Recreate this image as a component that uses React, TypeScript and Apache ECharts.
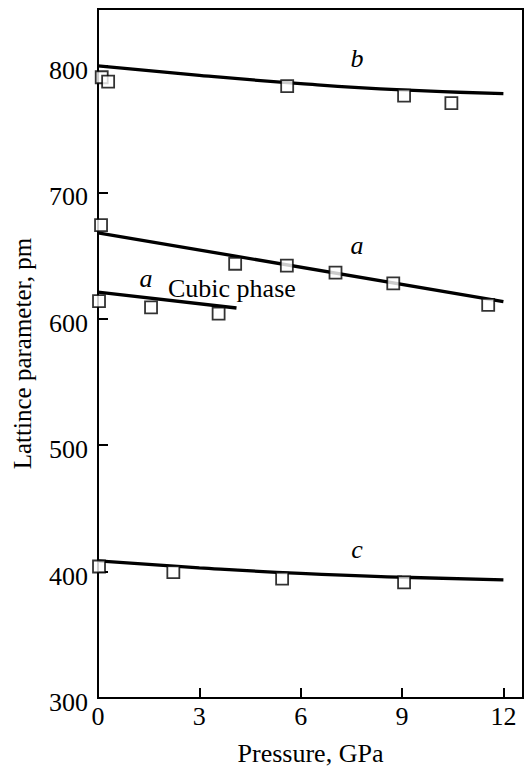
import React, { useEffect, useRef } from "react";
import * as echarts from "echarts";

// Fitted curves (Pressure GPa, lattice parameter pm)
const lineB: [number, number][] = [[0, 800], [3, 792.5], [6, 786], [9, 781], [12, 778]];
const lineA: [number, number][] = [[0, 668], [12, 613.5]];
const lineCubic: [number, number][] = [[0, 621], [4.1, 608.5]];
const lineC: [number, number][] = [[0, 408.5], [3, 403], [6, 398.5], [9, 395.5], [12, 393.5]];

// Measured points
const ptsB: [number, number][] = [[0.11, 791], [0.3, 787.5], [5.6, 784], [9.06, 776.5], [10.46, 770.5]];
const ptsA: [number, number][] = [[0.09, 674], [4.06, 643.5], [5.59, 642], [7.03, 636.5], [8.74, 628], [11.55, 611]];
const ptsCubic: [number, number][] = [[0.03, 614], [1.57, 609], [3.57, 604]];
const ptsC: [number, number][] = [[0.03, 404], [2.23, 399.5], [5.45, 394.5], [9.06, 391.5]];

const xTicks = [0, 3, 6, 9, 12];
const yTicks = [300, 400, 500, 600, 700, 800];

const FONT = "Liberation Serif";

export default function App() {
  const ref = useRef<HTMLDivElement>(null);
  useEffect(() => {
    if (!ref.current) return;
    const chart = echarts.init(ref.current, null, { renderer: "svg" });
    const lineSeries = (data: [number, number][], smooth: boolean) => ({
      type: "line",
      data,
      smooth,
      showSymbol: false,
      symbol: "none",
      lineStyle: { color: "#000", width: 3.3 },
      z: 2,
    });
    const ptSeries = (data: [number, number][]) => ({
      type: "scatter",
      data,
      symbol: "rect",
      symbolSize: 12,
      itemStyle: { color: "#fff", borderColor: "#000", borderWidth: 1.8 },
      z: 3,
    });
    const txt = (text: string, x: number, y: number, italic: boolean, align = "center", size = 26) => ({
      type: "text",
      x,
      y,
      style: {
        text,
        fontFamily: FONT,
        fontSize: size,
        fontStyle: italic ? "italic" : "normal",
        fill: "#000",
        align,
        verticalAlign: "middle",
      },
      z: 10,
    });
    chart.setOption({
      animation: false,
      backgroundColor: "#fff",
      grid: {
        left: 98,
        top: 9,
        right: 4,
        bottom: 70,
        show: true,
        borderColor: "#000",
        borderWidth: 2,
        backgroundColor: "transparent",
      },
      xAxis: {
        type: "value",
        min: 0,
        max: 12.58,
        interval: 3,
        name: "Pressure, GPa",
        nameLocation: "middle",
        nameGap: 42,
        nameTextStyle: { fontFamily: FONT, fontSize: 26, color: "#000" },
        axisLine: { show: true, lineStyle: { color: "#000", width: 2 } },
        axisTick: { show: true, inside: true, length: 10, lineStyle: { color: "#000", width: 2 } },
        axisLabel: {
          fontFamily: FONT,
          fontSize: 26,
          color: "#000",
          margin: 5,
          formatter: (v: number) => (xTicks.includes(v) ? String(v) : ""),
        },
        splitLine: { show: false },
      },
      yAxis: {
        type: "value",
        min: 300,
        max: 845,
        interval: 100,
        name: "Lattince parameter, pm",
        nameLocation: "middle",
        nameGap: 63,
        nameTextStyle: { fontFamily: FONT, fontSize: 25, color: "#000" },
        axisLine: { show: true, lineStyle: { color: "#000", width: 2 } },
        axisTick: { show: true, inside: true, length: 10, lineStyle: { color: "#000", width: 2 } },
        axisLabel: {
          fontFamily: FONT,
          fontSize: 26,
          color: "#000",
          margin: 10,
          formatter: (v: number) => (yTicks.includes(v) ? "{t|" + v + "}" : ""),
          rich: {
            t: { fontFamily: FONT, fontSize: 26, color: "#000", padding: [9, 0, 0, 0] },
          },
        },
        splitLine: { show: false },
      },
      graphic: [
        txt("b", 357, 58, true),
        txt("a", 357, 245, true),
        txt("a", 146, 278, true),
        txt("Cubic phase", 168, 288, false, "left", 26),
        txt("c", 357, 549, true),
      ],
      series: [
        lineSeries(lineB, true),
        lineSeries(lineA, false),
        lineSeries(lineCubic, false),
        lineSeries(lineC, true),
        ptSeries(ptsB),
        ptSeries(ptsA),
        ptSeries(ptsCubic),
        ptSeries(ptsC),
      ],
    });
    return () => chart.dispose();
  }, []);
  return <div ref={ref} style={{ width: 527, height: 771, position: "absolute", left: 0, top: 0 }} />;
}
